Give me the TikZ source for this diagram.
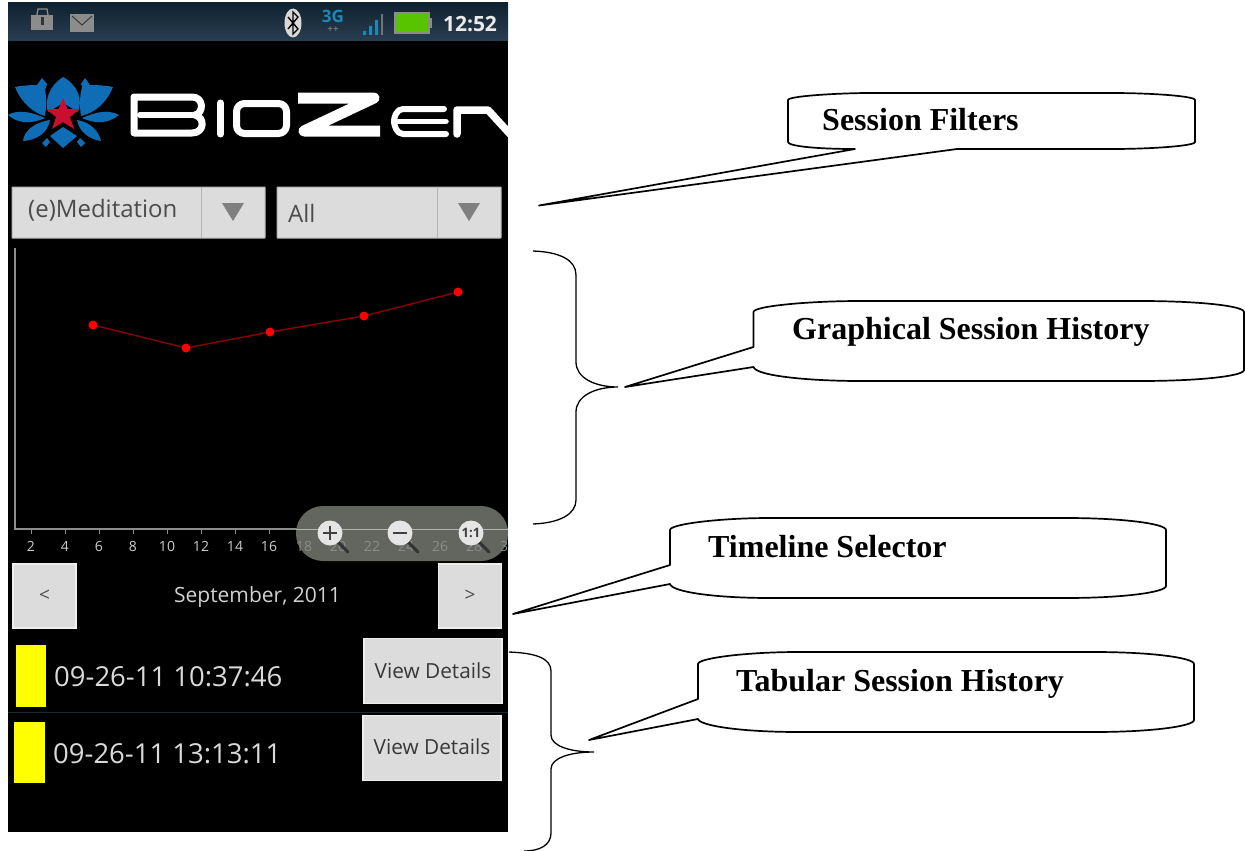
\documentclass[tikz,border=0pt]{standalone}
\usepackage{fontspec}
\setmainfont{Liberation Serif}
\newfontfamily\nsans{Open Sans}
\definecolor{btn}{HTML}{DCDCDC}
\definecolor{btnedge}{HTML}{B4B4B4}
\definecolor{btnlight}{HTML}{EFEFEF}
\definecolor{lotus}{HTML}{0F6DB5}
\definecolor{star}{HTML}{C8102E}
\definecolor{pureyellow}{HTML}{FFFF00}
\definecolor{bartop}{HTML}{0E2230}
\definecolor{barbot}{HTML}{2A3E52}
\definecolor{sigblue}{HTML}{1F86B8}
\definecolor{batt}{HTML}{58C400}
\definecolor{pill}{HTML}{62665E}
\definecolor{sep}{HTML}{1A2A2E}
\definecolor{linered}{HTML}{8A0000}
\definecolor{dotred}{HTML}{FF0000}
\tikzset{
  btnbox/.style={fill=btn,draw=btnedge,line width=1pt,rounded corners=0.5pt,inner sep=0pt},
  btnlit/.style={fill=btn,draw=btnlight,line width=1.4pt,inner sep=0pt},
  tag/.style={font=\bfseries\fontsize{32}{33}\selectfont,anchor=base west,inner sep=0pt,text=black},
  callout/.style={draw=black,line width=1.7pt,fill=white,line join=round},
  brace/.style={draw=black,line width=1.3pt},
  tick/.style={font=\nsans\fontsize{14}{15}\selectfont,text=white!80!black,inner sep=0pt},
  ui/.style={font=\nsans,inner sep=0pt,text=black!70},
  pt/.style={circle,fill=dotred,inner sep=0pt,minimum size=9pt}
}
\begin{document}
\begin{tikzpicture}[x=1pt,y=-1pt]
\useasboundingbox (0,0) rectangle (1245,851);
\fill[white] (0,0) rectangle (1245,851);
% phone screen
\fill[black] (8,3) rectangle (508,832);
\shade[top color=bartop,bottom color=barbot] (8,3) rectangle (508,41);
% status bar
\fill[black!45] (31,15) rectangle (53,30);
\draw[black!45,line width=1.3pt] (37,15) -- (38,9) -- (47,9) -- (48,15);
\fill[black!80] (40.5,17) rectangle (43.5,25);
\fill[black!45] (70,14) rectangle (94,32);
\draw[black!80,line width=0.9pt] (72,16) -- (82,25) -- (92,16);
\fill[black!15] (293,23) ellipse (8.5 and 14.5);
\draw[black,line width=1.4pt] (288,17) -- (298,29) -- (293,34) -- (293,12) -- (298,17) -- (288,29);
\node[font=\nsans\bfseries\fontsize{17}{17}\selectfont,text=sigblue,inner sep=0pt] (threeg) at (333,16) {3G};
\node[font=\bfseries\fontsize{10}{10}\selectfont,text=black!45,inner sep=0pt] (arrows) at (333,30) {++};
\fill[sigblue] (363,31) rectangle (366,35) (369,26) rectangle (372,35) (375,20) rectangle (378,35);
\fill[black!55] (381,14) rectangle (383,35);
\fill[black!45] (394,12) rectangle (430,34);
\fill[black!45] (430,18) rectangle (432,28);
\fill[batt] (396,14) rectangle (428,32);
\node[font=\nsans\bfseries\fontsize{21}{21}\selectfont,text=white!92!black,inner sep=0pt] (clock) at (470,24) {12:52};
% logo: lotus
\begin{scope}[fill=lotus]
\fill (63,77) .. controls (50,85) and (44,100) .. (48,112) -- (63,103) -- (78,112) .. controls (83,100) and (78,85) .. (63,77) -- cycle;
\fill (15,87) .. controls (22,104) and (34,113) .. (45,116) .. controls (47,104) and (46,92) .. (44,85) .. controls (35,85) and (24,85) .. (15,87) -- cycle;
\fill (113,87) .. controls (106,104) and (94,113) .. (81,116) .. controls (79,104) and (80,92) .. (83,85) .. controls (92,85) and (104,85) .. (113,87) -- cycle;
\fill (8,115) .. controls (18,109) and (32,112) .. (45,118) .. controls (32,124) and (18,124) .. (8,115) -- cycle;
\fill (119,115) .. controls (108,109) and (96,112) .. (82,118) .. controls (95,124) and (108,124) .. (119,115) -- cycle;
\fill (23,141) .. controls (24,130) and (36,122) .. (50,120) .. controls (48,132) and (38,140) .. (23,141) -- cycle;
\fill (101,141) .. controls (99,131) and (90,122) .. (77,120) .. controls (79,131) and (88,139) .. (101,141) -- cycle;
\fill (63,127) -- (50,136) -- (63,148) -- (77,136) -- cycle;
\fill (42,78) -- (37,85) -- (44,93) -- (47,84) -- cycle;
\fill (85,78) -- (81,84) -- (85,93) -- (90,85) -- cycle;
\fill (47,138) -- (42,143) -- (46,147) -- (50,142) -- cycle;
\fill (80,138) -- (77,142) -- (81,147) -- (85,143) -- cycle;
\end{scope}
\fill[star] (63,98) -- (67.5,109) -- (80,109) -- (70,117) -- (74,129) -- (63,122) -- (52,129) -- (56,117) -- (46,109) -- (58.5,109) -- cycle;
% logo: wordmark
\begin{scope}
\clip (8,3) rectangle (508,832);
\begin{scope}[draw=white,line join=round,line cap=round]
\draw[line width=7pt] (134,97) -- (192,97) .. controls (204,97) and (204,113) .. (195,115) .. controls (205,117) and (205,133) .. (192,133) -- (134,133) -- cycle;
\draw[line width=6pt] (140,115) -- (192,115);
\draw[line width=7pt] (220.5,103) -- (220.5,134);
\draw[line width=7pt,rounded corners=8pt] (236.5,103.5) rectangle (286.5,133.5);
\draw[line width=11pt,line cap=butt] (298,98) -- (374,98) -- (304,131) -- (380,131);
\draw[line width=6pt,rounded corners=5pt] (444,109) -- (398,109) -- (393,121) -- (398,134) -- (446,134);
\draw[line width=5.5pt] (398,121.5) -- (446,121.5);
\draw[line width=7.5pt] (457,134) -- (457,110) -- (488,110) -- (510,134);
\end{scope}
\end{scope}
% spinners
\node[btnbox,minimum width=253pt,minimum height=51pt] (spin1) at (138.5,212.5) {};
\node[btnbox,minimum width=224pt,minimum height=51pt] (spin2) at (389,212.5) {};
\draw[btnedge,line width=.8pt] (201,187) -- (201,238) (437,187) -- (437,238);
\node[ui,anchor=west,font=\nsans\fontsize{24}{24}\selectfont] (lab1) at (28,210) {(e)Meditation};
\node[ui,anchor=west,font=\nsans\fontsize{24}{24}\selectfont] (lab2) at (288,213) {All};
\fill[black!50] (222,203) -- (244,203) -- (233,221) -- cycle;
\fill[black!50] (458,203) -- (480,203) -- (469,221) -- cycle;
% chart
\draw[black!45,line width=1.2pt] (15,248) -- (15,529) -- (508,529);
\foreach \x in {31,65,99,133,167,201,235,269} \draw[black!45,line width=1pt] (\x,529) -- (\x,534);
\foreach \x/\l in {31/2,65/4,99/6,133/8,167/10,201/12,235/14,269/16}
  \node[tick] (t\l) at (\x,546) {\l};
\node (p1) [pt] at (93,325) {};
\node (p2) [pt] at (186,348) {};
\node (p3) [pt] at (270,332) {};
\node (p4) [pt] at (364,316) {};
\node (p5) [pt] at (458,292) {};
\draw[linered,line width=1.4pt] (p1) -- (p2) -- (p3) -- (p4) -- (p5);
% zoom controls
\fill[pill,rounded corners=27pt] (296,506) rectangle (508,561);
\draw[black!30,line width=1pt] (296,529) -- (508,529);
\begin{scope}
\clip (8,3) rectangle (508,832);
\foreach \x/\l in {304/18,338/20,372/22,406/24,440/26,474/28,508/30}
  \node[tick,text=white!55!black] (z\l) at (\x,546) {\l};
\end{scope}
\foreach \x/\m in {330/p,400/m,471/o}{
  \draw[black!80,line width=3pt,line cap=round] (\x+6,540) -- (\x+18,552);
  \fill[white!90!black] (\x,533) circle (12.5);
}
\draw[black!75,line width=2.6pt] (323,533) -- (337,533) (330,526) -- (330,540);
\draw[black!75,line width=2.6pt] (393,533) -- (407,533);
\node[font=\nsans\bfseries\fontsize{13}{13}\selectfont,text=black!75,inner sep=0pt] (fit) at (471,533) {1:1};
% timeline
\node[btnlit,minimum width=63pt,minimum height=64pt] (prev) at (44.5,596) {};
\node[btnlit,minimum width=63pt,minimum height=64pt] (next) at (470,596) {};
\node[ui,font=\nsans\fontsize{19}{19}\selectfont] (lt) at (44.5,596) {<};
\node[ui,font=\nsans\fontsize{19}{19}\selectfont] (gt) at (470,596) {>};
\node[font=\nsans\fontsize{21}{21}\selectfont,text=white!82!black,inner sep=0pt] (date) at (257.5,597) {September, 2011};
% table
\draw[sep,line width=.8pt] (8,712) -- (508,712);
\fill[pureyellow] (16,645) rectangle (46,707);
\fill[pureyellow] (14,722) rectangle (45,783);
\node[font=\nsans\fontsize{27.5}{28}\selectfont,text=white!85!black,inner sep=0pt,anchor=west] (row1) at (54,677) {09-26-11 10:37:46};
\node[font=\nsans\fontsize{27.5}{28}\selectfont,text=white!85!black,inner sep=0pt,anchor=west] (row2) at (53,754) {09-26-11 13:13:11};
\node[btnlit,minimum width=138pt,minimum height=65pt] (vd1) at (433,671) {};
\node[btnlit,minimum width=138pt,minimum height=65pt] (vd2) at (432,748) {};
\node[ui,font=\nsans\fontsize{20.8}{21}\selectfont,text=black!78] (vdt1) at (433,671) {View Details};
\node[ui,font=\nsans\fontsize{20.8}{21}\selectfont,text=black!78] (vdt2) at (432,747) {View Details};
% callouts
\coordinate (tipA) at (539,205.5);
\coordinate (tipB) at (625,387);
\coordinate (tipC) at (513,614);
\coordinate (tipD) at (589,740);
\draw[callout] (tipA) -- (855,149)
  .. controls (815,149) and (788,146) .. (788,142) -- (788,100)
  .. controls (788,96) and (840,93) .. (870,93) -- (1112,93)
  .. controls (1150,93) and (1195,96) .. (1195,100) -- (1195,142)
  .. controls (1195,146) and (1150,149) .. (1112,149) -- (957,149) -- cycle;
\draw[callout] (tipB) -- (753.5,347) -- (753.5,312)
  .. controls (753.5,306) and (810,301) .. (860,301) -- (1140,301)
  .. controls (1200,301) and (1244,306) .. (1244,312) -- (1244,370)
  .. controls (1244,376) and (1200,381) .. (1140,381) -- (860,381)
  .. controls (810,381) and (756,376) .. (753.5,367) -- cycle;
\draw[callout] (tipC) -- (670,565) -- (670,530)
  .. controls (670,524) and (720,518) .. (770,518) -- (1066,518)
  .. controls (1125,518) and (1166,524) .. (1166,530) -- (1166,586)
  .. controls (1166,592) and (1125,598) .. (1066,598) -- (770,598)
  .. controls (715,598) and (672,592) .. (670,584) -- cycle;
\draw[callout] (tipD) -- (698,699) -- (698,664)
  .. controls (698,658) and (748,652) .. (798,652) -- (1094,652)
  .. controls (1153,652) and (1194,658) .. (1194,664) -- (1194,720)
  .. controls (1194,726) and (1153,732) .. (1094,732) -- (798,732)
  .. controls (743,732) and (700,726) .. (698,719) -- cycle;
\node[tag] (tagA) at (822,130) {Session Filters};
\node[tag] (tagB) at (792,339) {Graphical Session History};
\node[tag] (tagC) at (708,557) {Timeline Selector};
\node[tag] (tagD) at (736,691) {Tabular Session History};
% braces
\draw[brace] (533,251) .. controls (560,252) and (576,260) .. (576,275) -- (576,362)
  .. controls (576,378) and (595,387) .. (618,387)
  .. controls (595,387) and (576,396) .. (576,412) -- (576,500)
  .. controls (576,514) and (560,523) .. (533,524);
\draw[brace] (509,652) .. controls (535,653) and (551,658) .. (551,671) -- (551,735)
  .. controls (551,746) and (570,752) .. (594,752)
  .. controls (570,752) and (551,758) .. (551,769) -- (551,833)
  .. controls (551,845) and (540,851) .. (524,851);
\end{tikzpicture}
\end{document}
